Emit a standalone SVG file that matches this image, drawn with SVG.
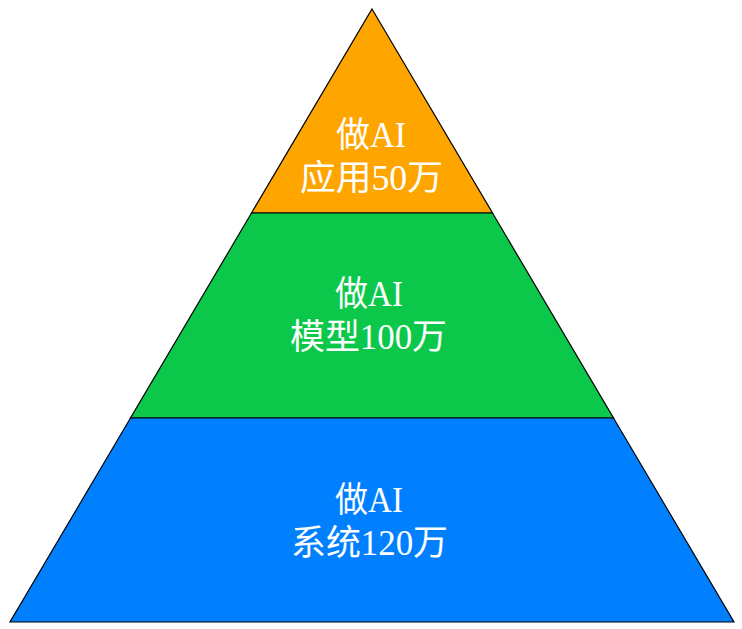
<svg xmlns="http://www.w3.org/2000/svg" width="742" height="629" viewBox="0 0 742 629">
<style>
.layer{stroke:#000;stroke-width:1.2;stroke-linejoin:miter}
.lbl{font-family:"Liberation Serif","Noto Sans CJK SC",serif;font-size:35px;fill:#fff;text-anchor:middle}
</style>
<rect width="742" height="629" fill="#fff"/>
<g id="top">
<polygon class="layer" fill="#FFA500" points="372,9 492.5,213 251.5,213"/>
<text class="lbl" x="371" y="147" textLength="70" lengthAdjust="spacingAndGlyphs">做AI</text>
<text class="lbl" x="371.5" y="190" textLength="143" lengthAdjust="spacingAndGlyphs">应用50万</text>
</g>
<g id="middle">
<polygon class="layer" fill="#0BC84A" points="251.5,213 492.5,213 613.5,418 130.5,418"/>
<text class="lbl" x="369" y="306" textLength="68" lengthAdjust="spacingAndGlyphs">做AI</text>
<text class="lbl" x="368.5" y="349" textLength="157" lengthAdjust="spacingAndGlyphs">模型100万</text>
</g>
<g id="bottom">
<polygon class="layer" fill="#0080FF" points="130.5,418 613.5,418 734,622 10,622"/>
<text class="lbl" x="369" y="512" textLength="68" lengthAdjust="spacingAndGlyphs">做AI</text>
<text class="lbl" x="369.5" y="555" textLength="157" lengthAdjust="spacingAndGlyphs">系统120万</text>
</g>
<g id="connectors"></g>
</svg>
